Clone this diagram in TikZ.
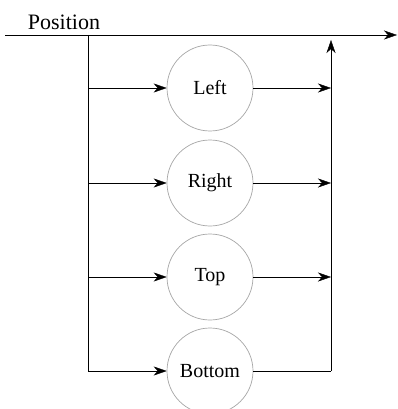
\documentclass[tikz,border=0pt]{standalone}
\usepackage{fontspec}
\setmainfont{Liberation Serif}
\usepackage{tikz}
\usetikzlibrary{positioning,arrows.meta,calc}
\tikzset{>={Stealth[length=13pt,width=9pt,inset=4pt]},
line width=1.4pt,
opt/.style={circle,draw=black!35,line width=0.7pt,minimum size=86pt,inner sep=0pt,font=\fontsize{20}{20}\selectfont},
lbl/.style={font=\fontsize{22}{22}\selectfont},
}
\begin{document}
\begin{tikzpicture}[x=1pt,y=-1pt]
\useasboundingbox (0,0) rectangle (397,409);
\node[lbl] (pos) at (64,22) {Position};
\coordinate (start) at (5,35);
\coordinate (stop) at (397,35);
\coordinate (split) at (88,35);
\coordinate (splitend) at (88,371);
\coordinate (mergetop) at (331,40);
\coordinate (mergeend) at (331,371);

\node[opt] (left) at (210,88) {Left};
\node[opt] (right) at (210,183) {Right};
\node[opt] (top) at (210,277) {Top};
\node[opt] (bottom) at (210,371) {Bottom};

\draw[->] (start) -- (stop);
\draw (split) -- (splitend);
\draw[->] (mergeend) -- (mergetop);
\path[->]
(split |- left) edge (left)
(split |- right) edge (right)
(split |- top) edge (top)
(splitend) edge (bottom)
(left) edge (mergeend |- left)
(right) edge (mergeend |- right)
(top) edge (mergeend |- top)
;
\draw (bottom) -- (mergeend);
\end{tikzpicture}
\end{document}
